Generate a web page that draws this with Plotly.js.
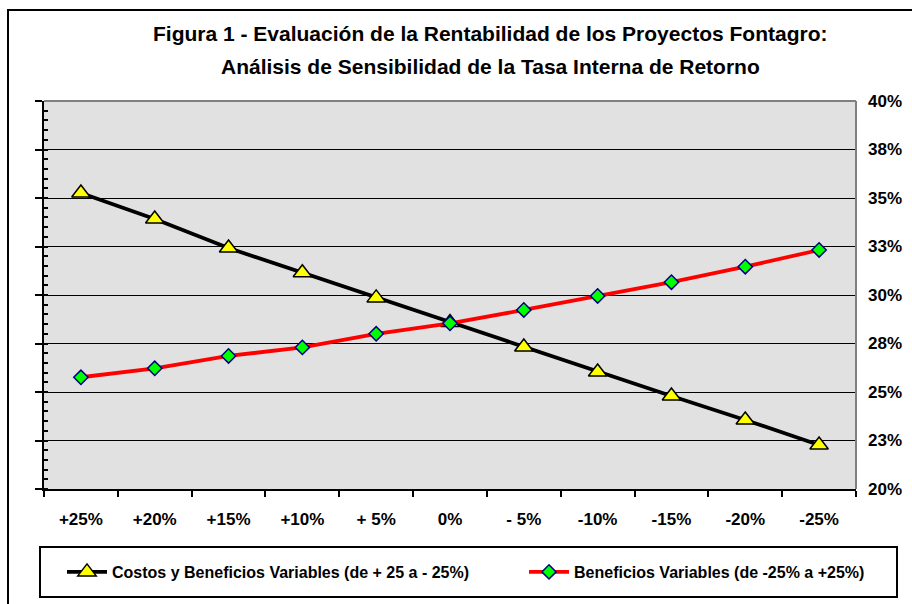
<!DOCTYPE html>
<html>
<head>
<meta charset="utf-8">
<script src="https://cdn.plot.ly/plotly-3.0.1.min.js"></script>
<style>
  html, body { margin: 0; padding: 0; background: #ffffff; }
  #chart { width: 912px; height: 604px; }
</style>
</head>
<body>
<div id="chart"></div>
<script>
// ---- Data ----
const categories = ["+25%", "+20%", "+15%", "+10%", "+ 5%", "0%", "- 5%", "-10%", "-15%", "-20%", "-25%"];
const costosBeneficios = [35.26, 33.92, 32.42, 31.15, 29.85, 28.58, 27.32, 26.03, 24.79, 23.56, 22.27];
const beneficios = [25.76, 26.22, 26.86, 27.30, 28.00, 28.54, 29.23, 29.95, 30.66, 31.46, 32.32];
const yTickVals = [20, 22.5, 25, 27.5, 30, 32.5, 35, 37.5, 40];
const yTickText = ["20%", "23%", "25%", "28%", "30%", "33%", "35%", "38%", "40%"];
const seriesNames = ["Costos y Beneficios Variables (de + 25 a - 25%)", "Beneficios Variables (de -25% a +25%)"];
const titleLines = ["Figura 1 - Evaluación de la Rentabilidad de los Proyectos Fontagro:", "Análisis de Sensibilidad de la Tasa Interna de Retorno"];

const FONT = "Liberation Sans, Arial, sans-serif";

// pixel -> paper helpers (plot area 44..856 x 101..489)
const PL = 44, PR = 856, PT = 101, PB = 489;
const px = x => (x - PL) / (PR - PL);
const py = y => (PB - y) / (PB - PT);

const traces = [
  {
    x: categories, y: costosBeneficios, name: seriesNames[0], legend: "legend",
    type: "scatter", mode: "lines+markers", xaxis: "x", yaxis: "y",
    line: { color: "#000000", width: 3.8 },
    marker: { symbol: "triangle-up", size: 16, color: "#FFFF00", line: { color: "#000000", width: 1.5 } }
  },
  {
    x: categories, y: beneficios, name: seriesNames[1], legend: "legend2",
    type: "scatter", mode: "lines+markers", xaxis: "x", yaxis: "y",
    line: { color: "#FF0000", width: 3.8 },
    marker: { symbol: "diamond", size: 11, color: "#00FF00", line: { color: "#000080", width: 1.5 } }
  },
  {
    x: [categories[0]], y: [null], xaxis: "x", yaxis: "y2", type: "scatter",
    mode: "markers", showlegend: false, hoverinfo: "skip"
  }
];

const legendFont = { family: FONT, size: 16, color: "#000000", weight: "bold" };

const layout = {
  width: 912, height: 604,
  paper_bgcolor: "#ffffff",
  plot_bgcolor: "#E1E1E1",
  margin: { l: PL, r: 912 - PR, t: PT, b: 604 - PB, pad: 0, autoexpand: false },
  font: { family: FONT, color: "#000000" },
  showlegend: true,
  xaxis: {
    type: "category",
    categoryorder: "array", categoryarray: categories,
    range: [-0.5, categories.length - 0.5],
    tickson: "boundaries",
    ticks: "outside", ticklen: 6, tickwidth: 2, tickcolor: "#000000",
    showline: true, linecolor: "#000000", linewidth: 2,
    showgrid: false, zeroline: false,
    tickfont: { family: FONT, size: 17, color: "#000000", weight: "bold" },
    ticklabelstandoff: 14,
    fixedrange: true
  },
  yaxis: {
    side: "right",
    range: [20, 40],
    tickmode: "array", tickvals: yTickVals, ticktext: yTickText,
    ticks: "", showline: false,
    showgrid: true, gridcolor: "#000000", gridwidth: 1,
    zeroline: false,
    tickfont: { family: FONT, size: 17, color: "#000000", weight: "bold" },
    ticklabelstandoff: 11,
    fixedrange: true
  },
  yaxis2: {
    overlaying: "y", side: "left",
    range: [20, 40],
    tickmode: "linear", tick0: 20, dtick: 2.5,
    showticklabels: false,
    ticks: "outside", ticklen: 7, tickwidth: 2, tickcolor: "#000000",
    minor: { ticks: "inside", dtick: 0.5, tick0: 20, ticklen: 4, tickwidth: 2, tickcolor: "#000000", showgrid: false },
    showline: true, linecolor: "#000000", linewidth: 2,
    showgrid: false, zeroline: false,
    fixedrange: true
  },
  legend: {
    orientation: "h",
    x: px(62), xanchor: "left",
    y: py(572), yanchor: "middle",
    bgcolor: "rgba(0,0,0,0)", borderwidth: 0,
    itemwidth: 40,
    font: legendFont
  },
  legend2: {
    orientation: "h",
    x: px(524), xanchor: "left",
    y: py(572), yanchor: "middle",
    bgcolor: "rgba(0,0,0,0)", borderwidth: 0,
    itemwidth: 40,
    font: legendFont
  },
  annotations: [
    { text: titleLines[0], xref: "paper", yref: "paper", x: px(490), y: py(34), xanchor: "center", yanchor: "middle", showarrow: false,
      font: { family: FONT, size: 21, color: "#000000", weight: "bold" } },
    { text: titleLines[1], xref: "paper", yref: "paper", x: px(490), y: py(66), xanchor: "center", yanchor: "middle", showarrow: false,
      font: { family: FONT, size: 21, color: "#000000", weight: "bold" } }
  ],
  shapes: [
    // outer chart frame
    { type: "rect", xref: "paper", yref: "paper", x0: px(8), x1: px(930), y0: py(630), y1: py(10), line: { color: "#000000", width: 2 }, layer: "above" },
    // gray top and right plot borders
    { type: "line", xref: "paper", yref: "paper", x0: 0, x1: 1, y0: 1, y1: 1, line: { color: "#808080", width: 2 }, layer: "above" },
    { type: "line", xref: "paper", yref: "paper", x0: 1, x1: 1, y0: 0, y1: 1, line: { color: "#808080", width: 2 }, layer: "above" },
    // legend box
    { type: "rect", xref: "paper", yref: "paper", x0: px(40), x1: px(897), y0: py(597), y1: py(547), line: { color: "#000000", width: 2 }, layer: "above" }
  ]
};

Plotly.newPlot("chart", traces, layout, { staticPlot: true, displayModeBar: false });
</script>
</body>
</html>
